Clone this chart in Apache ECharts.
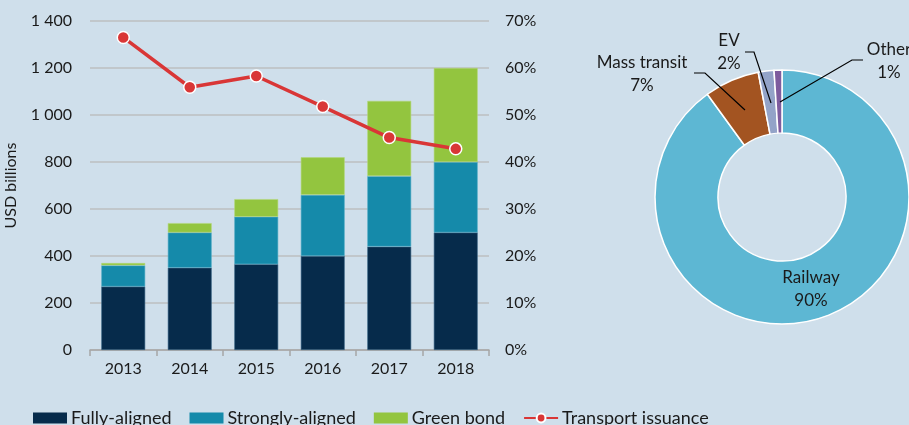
<!DOCTYPE html>
<html>
<head>
<meta charset="utf-8">
<script src="https://cdn.jsdelivr.net/npm/echarts@6/dist/echarts.min.js"></script>
<style>
  html, body { margin: 0; padding: 0; background: #CFDFEB; }
  #chart { width: 909px; height: 425px; }
</style>
</head>
<body>
<div id="chart"></div>
<script>
// Annual issuance, USD billions
const years = ['2013', '2014', '2015', '2016', '2017', '2018'];
const fullyAligned = [270, 350, 365, 400, 440, 500];
const stronglyAligned = [90, 150, 202, 260, 300, 300];
const greenBond = [10, 40, 75, 160, 320, 400];
// Share of transport issuance, percent
const transportShare = [66.5, 55.9, 58.3, 51.8, 45.2, 42.8];

// Breakdown by sub-sector, percent
const sectorNames = ['Railway', 'Mass transit', 'EV', 'Other'];
const sectorShares = [90, 7, 2, 1];

const FONT = 'Lato';
const TEXT = '#1a1a1a';

// Label placement for the doughnut (text centre) and its leader lines
const pieLabelSpots = {
  'Railway':      { x: 811, y: 289 },
  'Mass transit': { x: 642, y: 74 },
  'EV':           { x: 729, y: 52 },
  'Other':        { x: 889, y: 61 }
};
const leaderLines = [
  [[745, 110], [705, 73], [694, 73]],
  [[771, 103], [754, 52], [745, 52]],
  [[780, 102], [852, 60], [863, 60]]
];

const chart = echarts.init(document.getElementById('chart'), null, { renderer: 'canvas' });

const option = {
  backgroundColor: '#CFDFEB',
  animation: false,
  textStyle: { fontFamily: FONT, color: TEXT },
  legend: {
    left: 28,
    top: 404,
    itemWidth: 34,
    itemHeight: 11,
    itemGap: 18,
    textStyle: { fontFamily: FONT, fontSize: 18, color: TEXT, padding: [0, 0, 0, -1] },
    data: [
      { name: 'Fully-aligned', icon: 'rect', itemStyle: { borderWidth: 0 } },
      { name: 'Strongly-aligned', icon: 'rect', itemStyle: { borderWidth: 0 } },
      { name: 'Green bond', icon: 'rect', itemStyle: { borderWidth: 0 } },
      { name: 'Transport issuance' }
    ]
  },
  grid: { left: 90, right: 420, top: 21, bottom: 75 },
  xAxis: {
    type: 'category',
    data: years,
    axisLine: { lineStyle: { color: '#A6A6A6', width: 1.5 } },
    axisTick: { show: true, length: 6, lineStyle: { color: '#A6A6A6', width: 1.5 } },
    axisLabel: { fontFamily: FONT, fontSize: 16, color: TEXT, margin: 11 }
  },
  yAxis: [
    {
      type: 'value',
      min: 0, max: 1400, interval: 200,
      name: 'USD billions',
      nameLocation: 'middle',
      nameRotate: 90,
      nameGap: 71,
      nameTextStyle: { fontFamily: FONT, fontSize: 16, color: TEXT },
      axisLine: { show: false },
      axisTick: { show: false },
      splitLine: { lineStyle: { color: '#BDBFC1', width: 1.5 } },
      axisLabel: {
        fontFamily: FONT, fontSize: 16, color: TEXT, margin: 18,
        formatter: v => v >= 1000 ? Math.floor(v / 1000) + ' ' + String(v % 1000).padStart(3, '0') : String(v)
      }
    },
    {
      type: 'value',
      min: 0, max: 70, interval: 10,
      axisLine: { show: false },
      axisTick: { show: false },
      splitLine: { show: false },
      axisLabel: { fontFamily: FONT, fontSize: 16, color: TEXT, margin: 16, formatter: '{value}%' }
    }
  ],
  graphic: leaderLines.map(pts => ({
    type: 'polyline',
    silent: true,
    shape: { points: pts },
    style: { stroke: '#000000', lineWidth: 1.2, fill: null },
    z: 10
  })),
  series: [
    {
      name: 'Fully-aligned', type: 'bar', stack: 'total', barWidth: '66%',
      itemStyle: { color: '#062B4B', borderColor: '#3E6A8A', borderWidth: 0.6 },
      data: fullyAligned
    },
    {
      name: 'Strongly-aligned', type: 'bar', stack: 'total',
      itemStyle: { color: '#158AAA', borderColor: '#5AAFC8', borderWidth: 0.6 },
      data: stronglyAligned
    },
    {
      name: 'Green bond', type: 'bar', stack: 'total',
      itemStyle: { color: '#93C53F', borderColor: '#B3D77A', borderWidth: 0.6 },
      data: greenBond
    },
    {
      name: 'Transport issuance', type: 'line', yAxisIndex: 1,
      symbol: 'circle', symbolSize: 12,
      lineStyle: { color: '#D93636', width: 3.5 },
      itemStyle: { color: '#D93636', borderColor: '#FFFFFF', borderWidth: 1.5 },
      data: transportShare,
      z: 5
    },
    {
      name: 'Sectors', type: 'pie',
      center: [782, 197],
      radius: [64, 127],
      startAngle: 90,
      clockwise: true,
      silent: true,
      legendHoverLink: false,
      itemStyle: { borderColor: '#FFFFFF', borderWidth: 1.5 },
      label: {
        show: true,
        position: 'outside',
        formatter: '{b}\n{c}%',
        fontFamily: FONT, fontSize: 17, lineHeight: 23, color: TEXT,
        align: 'center',
        overflow: 'none',
        width: 140
      },
      labelLine: { show: false },
      labelLayout: function (params) {
        const spot = pieLabelSpots[sectorNames[params.dataIndex]];
        return { x: spot.x, y: spot.y, align: 'center', verticalAlign: 'middle' };
      },
      data: sectorNames.map((n, i) => ({
        name: n,
        value: sectorShares[i],
        itemStyle: { color: ['#5DB7D3', '#A35421', '#93A3C8', '#7E5C9E'][i] }
      }))
    }
  ]
};

chart.setOption(option);
</script>
</body>
</html>
